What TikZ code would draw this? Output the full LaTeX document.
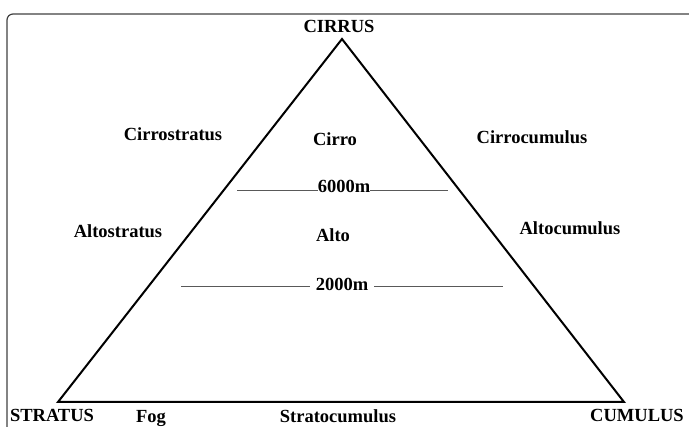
\documentclass[tikz,border=0pt]{standalone}
\usepackage{fontspec}
\setmainfont{Liberation Serif}
\tikzset{
  lbl/.style={anchor=base, inner sep=0pt, font=\fontsize{18.5}{20}\selectfont\bfseries},
  level/.style={draw=black!65, line width=1pt},
}
\begin{document}
\begin{tikzpicture}[x=1pt, y=-1pt]
\useasboundingbox (0,0) rectangle (689,427);
\clip (0,0) rectangle (689,427);
\draw [black!75, line width=1.2pt, rounded corners=6pt] (7,450) -- (7,14) -- (700,14) -- (700,450);
% triangle
\coordinate (apex) at (342, 39);
\coordinate (sw) at (58, 402);
\coordinate (se) at (624, 402);
\draw [line width=2pt, line join=miter] (apex) -- (se) -- (sw) -- cycle;
% corner types
\node [lbl] (cirrus) at (339, 33) {CIRRUS};
\node [lbl] (stratus) at (52, 422) {STRATUS};
\node [lbl] (cumulus) at (637, 422) {CUMULUS};
\node [lbl] (fog) at (151, 423) {Fog};
\node [lbl] (stcu) at (338, 423) {Stratocumulus};
% high level
\node [lbl] (cist) at (173, 141) {Cirrostratus};
\node [lbl] (cirro) at (335, 146) {Cirro};
\node [lbl] (cicu) at (532, 144) {Cirrocumulus};
\node [lbl] (h6) at (344, 193) {6000m};
\coordinate (h6l) at (237, 191);
\coordinate (h6r) at (448, 191);
\draw [level] (h6l) -- (h6l -| h6.west);
\draw [level] (h6.east |- h6r) -- (h6r);
% middle level
\node [lbl] (asst) at (118, 238) {Altostratus};
\node [lbl] (alto) at (333, 242) {Alto};
\node [lbl] (accu) at (570, 235) {Altocumulus};
\node [lbl] (h2) at (342, 291) {2000m};
\coordinate (h2l) at (181, 287);
\coordinate (h2r) at (503, 287);
\draw [level] (h2l) -- ([xshift=-6pt]h2l -| h2.west);
\draw [level] ([xshift=6pt]h2.east |- h2r) -- (h2r);
\end{tikzpicture}
\end{document}
